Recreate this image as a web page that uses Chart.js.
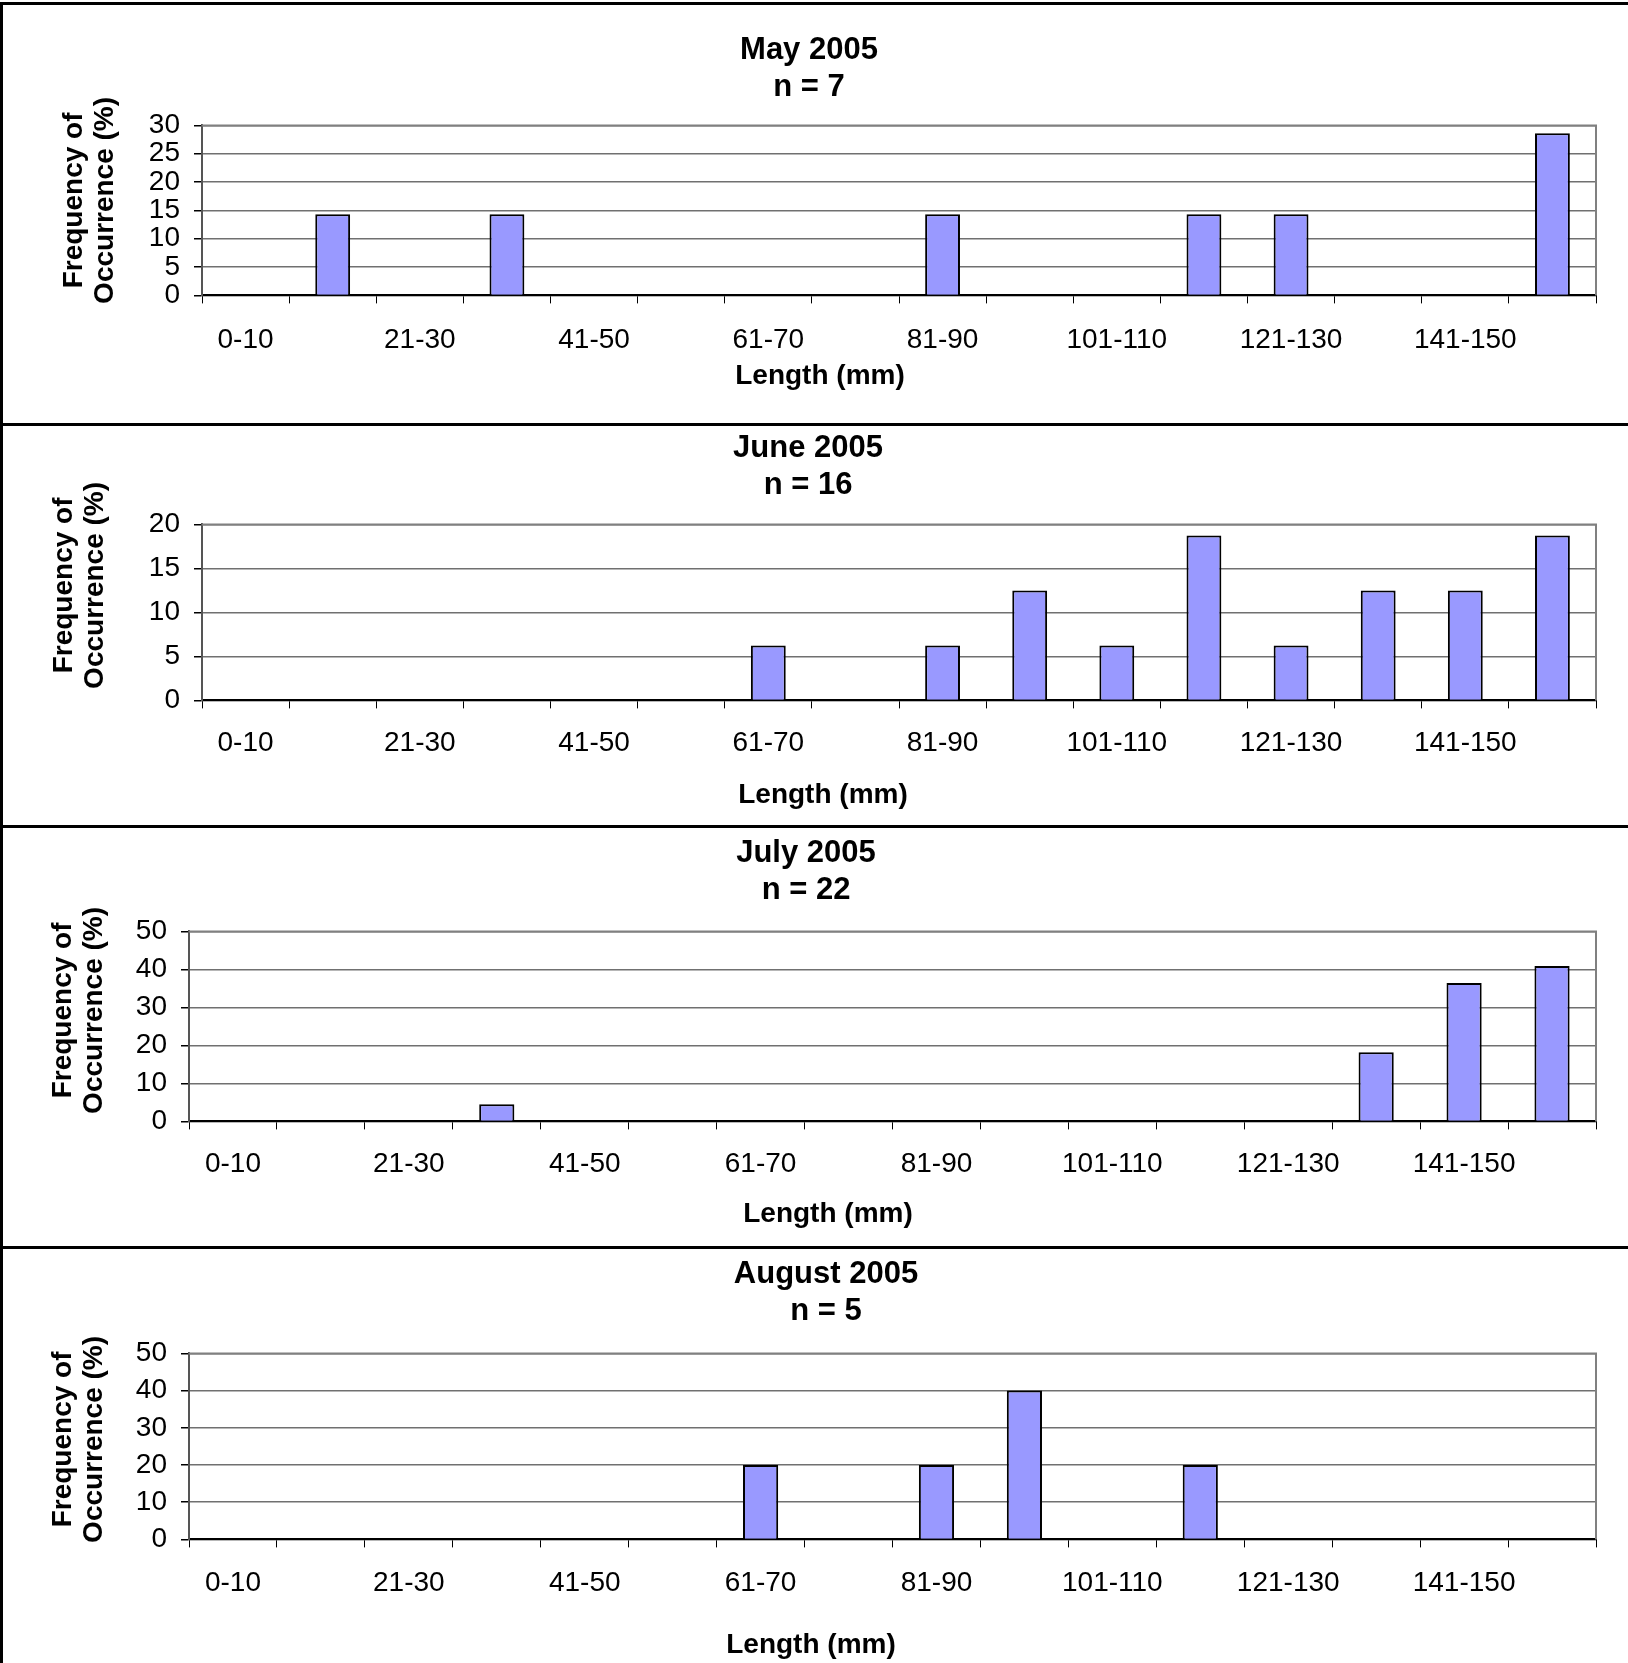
<!DOCTYPE html>
<html>
<head>
<meta charset="utf-8">
<script src="https://cdn.jsdelivr.net/npm/chart.js@4.4.0/dist/chart.umd.min.js"></script>
<style>
body { margin: 0; background: #fff; width: 1628px; height: 1663px; position: relative; overflow: hidden; }
canvas { position: absolute; left: 0; }
.hline { position: absolute; left: 0; width: 1628px; height: 3px; background: #000; }
.vline { position: absolute; left: 0; top: 2px; width: 3px; height: 1661px; background: #000; }
</style>
</head>
<body>
<canvas id="c0" width="1628" height="418" style="top:5px"></canvas>
<canvas id="c1" width="1628" height="399" style="top:426px"></canvas>
<canvas id="c2" width="1628" height="418" style="top:828px"></canvas>
<canvas id="c3" width="1628" height="414" style="top:1249px"></canvas>
<div class="hline" style="top:2px"></div>
<div class="hline" style="top:423px"></div>
<div class="hline" style="top:825px"></div>
<div class="hline" style="top:1246px"></div>
<div class="vline"></div>
<script>
const lengthBins = ['0-10', '11-20', '21-30', '31-40', '41-50', '51-60', '61-70', '71-80',
    '81-90', '91-100', '101-110', '111-120', '121-130', '131-140', '141-150', '151-160'];

const mayValues    = [0, 14.3, 0, 14.3, 0, 0, 0, 0, 14.3, 0, 0, 14.3, 14.3, 0, 0, 28.6];
const juneValues   = [0, 0, 0, 0, 0, 0, 6.25, 0, 6.25, 12.5, 6.25, 18.75, 6.25, 12.5, 12.5, 18.75];
const julyValues   = [0, 0, 0, 4.5, 0, 0, 0, 0, 0, 0, 0, 0, 0, 18.2, 36.4, 40.9];
const augustValues = [0, 0, 0, 0, 0, 0, 20, 0, 20, 40, 0, 20, 0, 0, 0, 0];

const months = ['May 2005', 'June 2005', 'July 2005', 'August 2005'];
const sampleSizes = [7, 16, 22, 5];
const yMax = [30, 20, 50, 50];
const yStep = [5, 5, 10, 10];
const allValues = [mayValues, juneValues, julyValues, augustValues];

// per panel layout (px)
const layouts = [
    { titleTop: 27, titleBottom: 19, titleDx: 11, plotLeft: 202, yTitlePad: 58, yTitleDy: -10, xHeight: 62, tickPad: 20, subBottom: 30, subDx: 22 },
    { titleTop: 4,  titleBottom: 20, titleDx: 10, plotLeft: 202, yTitlePad: 48, yTitleDy: -27, xHeight: 76, tickPad: 18, subBottom: 13, subDx: 25 },
    { titleTop: 7,  titleBottom: 22, titleDx: 8,  plotLeft: 189, yTitlePad: 47, yTitleDy: -16, xHeight: 74, tickPad: 18, subBottom: 15, subDx: 30 },
    { titleTop: 7,  titleBottom: 23, titleDx: 28, plotLeft: 189, yTitlePad: 47, yTitleDy: -7,  xHeight: 87, tickPad: 19, subBottom: 1,  subDx: 13 }
];

const FONT = '"Liberation Sans", Arial, sans-serif';
Chart.defaults.color = '#000';
Chart.defaults.font.family = FONT;

// grey frame on top and right of the plot area, like the original
const plotFrame = {
    id: 'plotFrame',
    beforeDatasetsDraw(chart) {
        const { ctx, chartArea: a } = chart;
        ctx.save();
        ctx.strokeStyle = '#808080';
        ctx.lineWidth = 2;
        ctx.beginPath();
        ctx.moveTo(a.left, a.top);
        ctx.lineTo(a.right, a.top);
        ctx.lineTo(a.right, a.bottom);
        ctx.stroke();
        ctx.restore();
    }
};

// the original titles are not centred on the canvas; nudge them sideways
const nudgeTitles = {
    id: 'nudgeTitles',
    afterLayout(chart, args, opts) {
        chart.boxes.forEach(b => {
            if (b.axis || !b.options || b.options.text === undefined) return;
            const dx = b.options.position === 'bottom' ? opts.subDx : opts.titleDx;
            b.left += dx;
            b.right += dx;
        });
    }
};

allValues.forEach((values, i) => {
    const lay = layouts[i];
    new Chart(document.getElementById('c' + i), {
        type: 'bar',
        data: {
            labels: lengthBins,
            datasets: [{
                data: values,
                backgroundColor: '#9999FF',
                borderColor: '#000',
                borderWidth: 2,
                categoryPercentage: 1,
                barPercentage: 0.4
            }]
        },
        options: {
            responsive: false,
            animation: false,
            layout: { padding: { left: 0, right: 32, top: 0, bottom: 0 } },
            plugins: {
                legend: { display: false },
                tooltip: { enabled: false },
                nudgeTitles: { titleDx: lay.titleDx, subDx: lay.subDx },
                title: {
                    display: true,
                    text: [months[i], 'n = ' + sampleSizes[i]],
                    font: { size: 31, weight: 'bold', lineHeight: 1.2 },
                    padding: { top: lay.titleTop, bottom: lay.titleBottom }
                },
                subtitle: {
                    display: true,
                    position: 'bottom',
                    text: 'Length (mm)',
                    font: { size: 28, weight: 'bold', lineHeight: 1.2 },
                    padding: { top: 2, bottom: lay.subBottom }
                }
            },
            scales: {
                x: {
                    grid: { drawOnChartArea: false, tickLength: 8, tickColor: '#000', offset: true },
                    border: { color: '#000', width: 2 },
                    ticks: {
                        autoSkip: false,
                        maxRotation: 0,
                        padding: lay.tickPad,
                        font: { size: 28 },
                        callback: (v, idx) => idx % 2 === 0 ? lengthBins[idx] : ''
                    },
                    afterFit: s => { s.height = lay.xHeight; }
                },
                y: {
                    min: 0,
                    max: yMax[i],
                    grid: { color: '#707070', lineWidth: 1.5, tickLength: 8, tickColor: '#000' },
                    border: { color: '#555', width: 2 },
                    ticks: { stepSize: yStep[i], autoSkip: false, padding: 14, font: { size: 28 } },
                    title: {
                        display: true,
                        text: ['Frequency of', 'Occurrence (%)'],
                        font: { size: 28, weight: 'bold', lineHeight: 1.13 },
                        padding: { top: lay.yTitlePad, bottom: 0 }
                    },
                    afterFit: s => {
                        s.width = lay.plotLeft;
                        if (!s._nudged) {
                            // move the axis title up a little, as in the original
                            const drawTitle = s.drawTitle.bind(s);
                            s.drawTitle = () => {
                                s.ctx.save();
                                s.ctx.translate(0, lay.yTitleDy);
                                drawTitle();
                                s.ctx.restore();
                            };
                            s._nudged = true;
                        }
                    }
                }
            }
        },
        plugins: [plotFrame, nudgeTitles]
    });
});
</script>
</body>
</html>
